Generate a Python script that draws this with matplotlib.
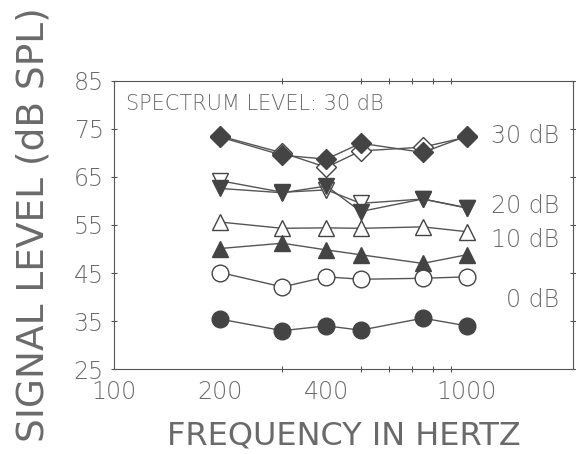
import matplotlib.pyplot as plt
import numpy as np

freqs = [200, 300, 400, 500, 750, 1000]

# signal levels (dB SPL) for each noise condition
diamond_open = [73.5, 70.0, 67.0, 70.4, 71.2, 73.3]
diamond_fill = [73.3, 69.5, 68.7, 72.0, 70.1, 73.5]
tri_down_open = [64.2, 61.8, 62.3, 59.5, 60.4, 58.6]
tri_down_fill = [62.6, 61.7, 63.1, 57.8, 60.4, 58.5]
tri_up_open = [55.6, 54.3, 54.4, 54.3, 54.6, 53.6]
tri_up_fill = [50.1, 51.2, 49.8, 48.8, 47.0, 48.8]
circle_open = [45.1, 42.1, 44.2, 43.7, 43.9, 44.2]
circle_fill = [35.4, 33.0, 34.0, 33.1, 35.6, 34.0]

level_labels = ['30 dB', '20 dB', '10 dB', '0 dB']
level_y = [73.5, 59.0, 51.8, 39.3]

plt.rcParams['font.family'] = ['DejaVu Sans']
plt.rcParams['font.weight'] = 'light'
txt = '#6a6a6a'
gray = '#555555'
dark = '#444444'

fig = plt.figure(figsize=(5.76, 4.54), dpi=100)
ax = fig.add_axes([0.198, 0.187, 0.797, 0.635])

series = [
    (diamond_open, 'D', 'white', 10),
    (diamond_fill, 'D', dark, 10),
    (tri_down_open, 'v', 'white', 11),
    (tri_down_fill, 'v', dark, 11),
    (tri_up_open, '^', 'white', 11),
    (tri_up_fill, '^', dark, 11),
    (circle_open, 'o', 'white', 12),
    (circle_fill, 'o', dark, 12),
]
for vals, m, fc, ms in series:
    ax.plot(freqs, vals, color=gray, lw=1, marker=m, ms=ms,
            markerfacecolor=fc, markeredgecolor=dark, markeredgewidth=1)

ax.set_xscale('log')
ax.set_xlim(100, 2000)
ax.set_ylim(25, 85)
ax.set_xticks([100, 200, 400, 1000])
ax.set_xticklabels(['100', '200', '400', '1000'])
ax.set_xticks([200, 300, 400, 500, 600, 700, 800, 900, 1000], minor=True)
ax.set_xticklabels([], minor=True)
ax.set_yticks([25, 35, 45, 55, 65, 75, 85])

ax.tick_params(axis='both', which='both', direction='inout', length=5,
               width=0.8, colors=gray, labelcolor=txt, labelsize=17,
               top=True, right=True)
ax.tick_params(axis='x', which='major', length=0, pad=8)
ax.tick_params(axis='y', pad=5)
for sp in ax.spines.values():
    sp.set_color(gray)
    sp.set_linewidth(0.8)

ax.text(0.025, 0.92, 'SPECTRUM LEVEL: 30 dB', transform=ax.transAxes,
        fontsize=15, color=txt, va='center', ha='left')
for lab, yv in zip(level_labels, level_y):
    ax.text(1830, yv, lab, fontsize=17, color=txt, va='center', ha='right')

ax.set_xlabel('FREQUENCY IN HERTZ', fontsize=23, color=txt, labelpad=12)
ax.set_ylabel('SIGNAL LEVEL (dB SPL)', fontsize=27, color=txt, labelpad=16)

fig.savefig('out.png', dpi=100)
